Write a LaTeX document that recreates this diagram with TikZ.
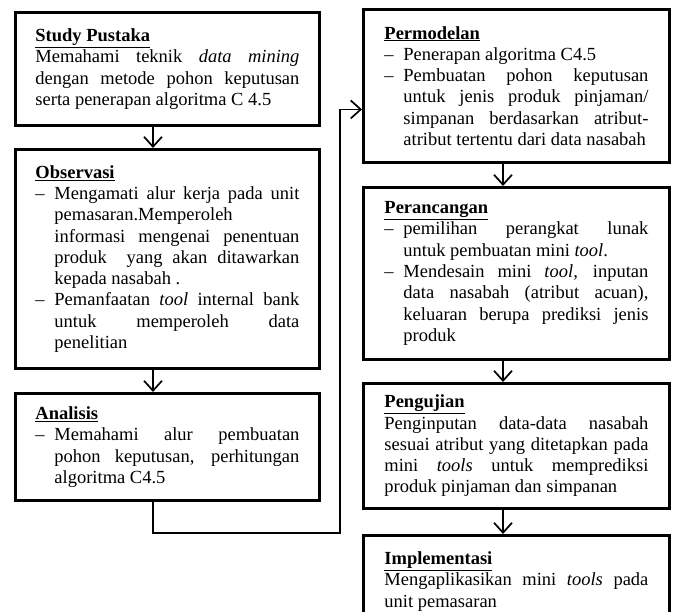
\documentclass[tikz,border=0pt]{standalone}
\usepackage{fontspec}
\setmainfont{Liberation Serif}
\usetikzlibrary{positioning,arrows.meta}
\setlength{\parindent}{0pt}
\newcommand{\judul}[1]{\textbf{\underline{#1}}\par}
\newcommand{\butir}[1]{\par\hangindent=19pt\hangafter=1\noindent\makebox[19pt][l]{--}#1\par}

\begin{document}
\begin{tikzpicture}[x=1pt,y=-1pt,
box/.style={draw,line width=2.9pt,text width=264pt,inner xsep=20pt,inner ysep=0pt,
  align=justify,anchor=north west,font=\fontsize{18.5}{21.3}\selectfont},
rbox/.style={box,inner xsep=21pt},
edge/.style={-{Straight Barb[length=10pt,width=18pt]},line width=1.7pt}]

\useasboundingbox (0,0) rectangle (673,612);

\node[box,minimum height=113pt] (Study) at (14,11) {\judul{Study Pustaka}
Memahami teknik \textit{data mining}\linebreak dengan metode pohon keputusan\linebreak serta penerapan algoritma C 4.5};

\node[box,minimum height=219pt] (Obs) at (14,148) {\judul{Observasi}
\butir{Mengamati alur kerja pada unit\linebreak pemasaran.Memperoleh\newline informasi mengenai penentuan\linebreak produk\ \ yang akan ditawarkan\linebreak kepada nasabah .}
\butir{Pemanfaatan \textit{tool} internal bank\linebreak untuk memperoleh data\linebreak penelitian}};

\node[box,minimum height=107pt] (Anal) at (14,392) {\judul{Analisis}
\butir{Memahami alur pembuatan\linebreak pohon keputusan, perhitungan\linebreak algoritma C4.5}};

\node[rbox,minimum height=153pt] (Model) at (362,8) {\judul{Permodelan}
\butir{Penerapan algoritma C4.5}
\butir{Pembuatan pohon keputusan\linebreak untuk jenis produk pinjaman/\linebreak simpanan berdasarkan atribut-\linebreak atribut tertentu dari data nasabah}};

\node[rbox,minimum height=172pt] (Ranc) at (362,186) {\judul{Perancangan}
\butir{pemilihan perangkat lunak\linebreak untuk pembuatan mini \textit{tool}.}
\butir{Mendesain mini \textit{tool,} inputan\linebreak data nasabah (atribut acuan),\linebreak keluaran berupa prediksi jenis\linebreak produk}};

\node[rbox,minimum height=125pt] (Uji) at (362,382) {\judul{Pengujian}
Penginputan data-data nasabah\linebreak sesuai atribut yang ditetapkan pada\linebreak mini \textit{tools} untuk memprediksi\linebreak produk pinjaman dan simpanan};

\node[rbox,minimum height=92pt] (Impl) at (362,534) {\judul{Implementasi}
Mengaplikasikan mini \textit{tools} pada\linebreak unit pemasaran};

\coordinate (lx) at (153,0);
\coordinate (rx) at (503,0);
\coordinate (turn) at (340,533);

\draw[edge] (Study.south -| lx) -- (Obs.north -| lx);
\draw[edge] (Obs.south -| lx) -- (Anal.north -| lx);
\draw[edge] (Anal.south -| lx) |- (turn) |- ([yshift=-23.5pt]Model.west);

\draw[edge] (Model.south -| rx) -- (Ranc.north -| rx);
\draw[edge] (Ranc.south -| rx) -- (Uji.north -| rx);
\draw[edge] (Uji.south -| rx) -- (Impl.north -| rx);

\end{tikzpicture}
\end{document}
